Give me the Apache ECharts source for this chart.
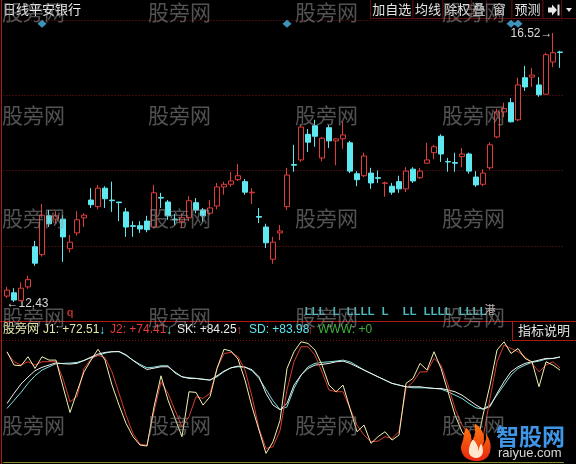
<!DOCTYPE html>
<html>
<head>
<meta charset="utf-8">
<script src="https://cdn.jsdelivr.net/npm/echarts@6/dist/echarts.min.js"></script>
<style>
html,body{margin:0;padding:0;background:#000;}
#chart{width:576px;height:464px;}
</style>
</head>
<body>
<div id="chart"></div>
<script>
// 平安银行 daily bars: open / close / low / high
const openP = [12.52,12.57,12.45,12.66,13.27,13.15,13.74,13.69,13.69,13.24,
  13.48,13.71,13.98,13.88,14.16,13.98,13.95,13.80,13.59,13.59,
  13.66,13.57,14.02,13.95,13.69,13.65,13.71,13.94,13.83,13.78,
  13.89,14.18,14.22,14.29,14.26,14.09,13.73,13.57,13.08,13.48,
  13.88,14.52,14.59,14.98,15.11,14.62,15.08,14.88,14.91,14.85,
  14.38,14.35,14.39,14.32,14.235,14.19,14.26,14.15,14.45,14.32,
  14.54,14.70,14.95,14.565,14.55,14.64,14.68,14.33,14.22,14.47,
  14.94,15.32,15.46,15.20,15.84,15.85,15.73,15.59,16.08,16.23];
const closeP = [12.61,12.46,12.64,12.77,13.02,13.75,13.62,13.74,13.42,13.34,
  13.68,13.75,13.91,14.16,14.00,13.97,13.94,13.57,13.58,13.54,
  13.53,14.09,14.01,13.74,13.68,13.71,13.97,13.83,13.74,13.86,
  14.18,14.22,14.27,14.35,14.10,14.10,13.72,13.33,13.34,13.51,
  14.36,14.51,15.09,14.86,14.95,14.92,14.88,14.91,14.97,14.42,
  14.29,14.65,14.24,14.31,14.24,14.10,14.15,14.42,14.27,14.42,
  14.59,14.79,14.68,14.56,14.54,14.68,14.42,14.21,14.39,14.82,
  15.32,15.37,15.17,15.73,15.70,15.88,15.58,16.19,16.22,16.225];
const lowP = [12.49,12.43,12.44,12.63,12.98,13.12,13.57,13.62,13.04,13.18,
  13.44,13.57,13.86,13.84,13.86,13.80,13.66,13.42,13.42,13.48,
  13.49,13.56,13.86,13.68,13.60,13.56,13.66,13.78,13.65,13.75,
  13.84,14.06,14.18,14.27,14.06,13.92,13.63,13.25,13.01,13.37,
  13.83,14.41,14.56,14.71,14.79,14.57,14.77,14.51,14.76,14.39,
  14.19,14.33,14.15,14.24,14.03,14.06,14.09,14.10,14.24,14.30,
  14.54,14.60,14.56,14.41,14.41,14.48,14.38,14.18,14.19,14.44,
  14.92,15.24,15.16,15.18,15.64,15.70,15.55,15.58,16.00,15.99];
const highP = [12.66,12.64,12.73,12.83,13.36,13.92,13.83,13.81,13.75,13.45,
  13.81,13.78,14.16,14.21,14.19,14.26,13.95,13.86,13.66,13.66,
  13.74,14.21,14.09,13.98,13.77,13.78,14.04,14.01,13.86,13.98,
  14.24,14.26,14.41,14.53,14.30,14.16,13.86,13.62,13.42,13.60,
  14.47,14.82,15.12,15.06,15.20,14.94,15.12,14.92,15.17,14.88,
  14.42,14.70,14.47,14.43,14.26,14.24,14.35,14.48,14.48,14.47,
  14.85,14.82,14.98,14.62,14.70,14.77,14.70,14.42,14.45,14.86,
  15.37,15.46,15.53,15.84,16.02,15.99,15.85,16.22,16.52,16.25];

// indicator lines
const j1 = [88.8,77,76.4,84.4,74,84.4,81.4,81.4,57.8,35,
  53.4,71,81.4,91,81.4,59.3,41.6,25.4,13.6,6.2,
  5.3,40,67.5,46,29.8,13.6,53.4,52.8,41.6,49,
  74,91,89.4,82.3,63.7,40,19.4,-1.2,9.1,28,
  74,88.8,97.6,96.2,90.3,77,59.3,53.4,59.3,38.6,
  18,23.9,7.7,13.6,18,10.6,15,60.8,65.2,78.5,
  72.6,88.8,74,53.4,32.7,18,9.1,1.8,32.7,59.3,
  90.3,97.6,87.3,91.7,82.9,79.9,57.8,79.9,77,72.51];
const j2 = [88,80,77,80,77,80,80,80,65,44.5,
  49,74,82.3,85.8,83.5,71,52,32.7,16.5,6.8,
  6.2,36,62.2,52,37,22.4,31.3,49,47.5,52,
  74,87.3,88.2,84.4,72.6,49,20.9,3.2,4.7,19,
  55,79.9,93.2,93.2,85.8,71,54.9,53.4,53.4,38.6,
  23.9,15,9.1,9.7,13.6,12.1,18,56.3,62.2,71,
  71,82.9,77,59.3,38.6,23.9,15,3.2,12.1,47.5,
  79.9,94.7,91.7,88.8,84.4,78.5,71,77,79.9,74.41];
const sk = [43,51.9,60.2,66.4,72,75,77,79,78.2,77.9,
  78.5,81.1,84.1,86.7,88.2,88.8,89.1,86.1,81.1,76.7,
  73.1,74.3,75.5,75.5,70.8,66.6,65.2,65.2,64.3,63.7,
  67.5,71.7,74.6,76.1,75.2,72.9,66.6,51.9,41.6,37.5,
  43,59.3,68.1,74,77,77.6,78.5,79.9,80.5,78.5,
  75.5,72.6,69.6,66.6,63.7,60.8,59.3,57.8,57.8,57.8,
  56.9,56.3,56.3,54.9,53.4,50.4,46,41.6,38,40.1,
  51.9,62.2,71.1,75.5,78.5,79.9,81.4,82.9,82.9,84.25];
const sd = [38.6,45.7,52.8,60.8,67.5,72.6,75.5,78.2,78.5,78.8,
  79.4,81.1,83.5,85.5,87.6,88.8,88.8,85.5,81.4,77.6,
  74.6,75.2,76.4,76.4,69.9,66.6,65.8,65.2,64.6,63.7,
  66.6,71.1,74.6,75.5,75.2,72,65.2,55.4,45.4,37.6,
  40,56.3,68.1,75.5,78.5,79.4,79.9,80.5,81.4,79.9,
  76.4,72.6,69.6,66.6,63.7,60.8,59.3,57.8,56.9,56.9,
  56.9,56.3,55.7,53.4,50.4,47.5,43,39.2,38,41.6,
  50.4,59.3,68.1,74,77,79.4,80.5,82.3,82.9,83.98];
const wwwValue = 0;

// event markers (bar indices)
const infoMarks = [5, 40, 72, 73];
const lMarks = [43,44,45,47,49,50,51,52,54,57,58,60,61,62,63,65,66,67,68];
const qMarks = [9];
const hkMarks = [69];

const RED = '#e03c3c';
const CYAN = '#5ee8f0';
const GRID = '#7a1616';
const FONT = '"Liberation Sans","Noto Sans CJK SC",sans-serif';

const idx = openP.map((_, i) => i);
const candles = idx.map(i => [openP[i], closeP[i], lowP[i], highP[i]]);

const chart = echarts.init(document.getElementById('chart'), null, {renderer: 'canvas'});

function fmt(v) { return (v >= 0 ? '+' : '') + v.toFixed(2); }
function rising(arr) { const n = arr.length; return arr[n - 1] >= arr[n - 2]; }
const last = a => a[a.length - 1];

function txt(text, x, y, fill, size, extra) {
  return {
    type: 'text', silent: true, z: 50,
    style: Object.assign({text: text, x: x, y: y, fill: fill,
      font: (size || 12) + 'px ' + FONT, verticalAlign: 'middle'}, extra || {})
  };
}

const graphics = [];

// watermark grid
const wmCols = [2, 148, 295, 442];
const wmRows = [12, 115, 218, 317, 425];
wmRows.forEach(r => wmCols.forEach(c => {
  graphics.push({type: 'text', silent: true, z: 100,
    style: {text: '股旁网', x: c, y: r, fill: 'rgba(150,150,150,0.55)',
      font: '21px "Noto Sans CJK SC",sans-serif', verticalAlign: 'middle'}});
}));

// frame lines
graphics.push({type: 'line', silent: true, z: 60, shape: {x1: 0, y1: 321.5, x2: 576, y2: 321.5}, style: {stroke: '#b01818', lineWidth: 1}});
graphics.push({type: 'line', silent: true, z: 60, shape: {x1: 1.5, y1: 0, x2: 1.5, y2: 464}, style: {stroke: '#b01818', lineWidth: 1}});
graphics.push({type: 'line', silent: true, z: 60, shape: {x1: 0, y1: 340.5, x2: 512, y2: 340.5}, style: {stroke: GRID, lineWidth: 1, lineDash: [1, 2]}});

// header
graphics.push(txt('日线平安银行', 3, 10, '#f0f0f0', 13));

// toolbar
const tools = [['加自选', 370, 412.5], ['均线', 412.5, 442.5], ['除权', 442.5, 471], ['叠', 471, 486], ['窗', 486, 511.5], ['预测', 511.5, 542.5]];
tools.forEach(t => {
  graphics.push({type: 'rect', silent: true, z: 40, shape: {x: t[1] + 0.5, y: -1, width: t[2] - t[1], height: 19.5},
    style: {fill: '#000', stroke: '#5c0d0d', lineWidth: 1}});
  graphics.push(txt(t[0], (t[1] + t[2]) / 2 + 0.5, 10, '#e4e4e4', 13, {align: 'center'}));
});
graphics.push({type: 'rect', silent: true, z: 40, shape: {x: 543, y: -1, width: 18.5, height: 19.5}, style: {fill: '#000', stroke: '#5c0d0d', lineWidth: 1}});
graphics.push({type: 'rect', silent: true, z: 40, shape: {x: 561.5, y: -1, width: 16, height: 19.5}, style: {fill: '#000', stroke: '#5c0d0d', lineWidth: 1}});
graphics.push({type: 'polygon', silent: true, z: 55, shape: {points: [[548, 7.5], [552, 7.5], [552, 4.5], [557, 10], [552, 15.5], [552, 12.5], [548, 12.5]]}, style: {fill: '#e8e8e8'}});
graphics.push({type: 'rect', silent: true, z: 55, shape: {x: 557.5, y: 4.5, width: 2, height: 11}, style: {fill: '#e8e8e8'}});
graphics.push({type: 'polygon', silent: true, z: 55, shape: {points: [[566, 8], [572, 8], [569, 12]]}, style: {fill: '#e8e8e8'}});

// indicator title row
graphics.push(txt('股旁网', 3, 330, '#e8e8aa', 12));
graphics.push(txt('J1: ' + fmt(last(j1)), 43, 330, '#e8e8aa', 12));
graphics.push(txt(rising(j1) ? '↑' : '↓', 99, 331, rising(j1) ? RED : CYAN, 12));
graphics.push(txt('J2: ' + fmt(last(j2)), 110, 330, RED, 12));
graphics.push(txt(rising(j2) ? '↑' : '↓', 166, 331, rising(j2) ? RED : CYAN, 12));
graphics.push(txt('SK: ' + fmt(last(sk)), 177, 330, '#ececec', 12));
graphics.push(txt(rising(sk) ? '↑' : '↓', 236, 331, rising(sk) ? RED : CYAN, 12));
graphics.push(txt('SD: ' + fmt(last(sd)), 249, 330, CYAN, 12));
graphics.push(txt(rising(sd) ? '↑' : '↓', 307, 331, rising(sd) ? RED : CYAN, 12));
graphics.push(txt('WWW: +' + wwwValue, 318, 330, '#3cb43c', 12));

// indicator help box
graphics.push({type: 'rect', silent: true, z: 40, shape: {x: 512.5, y: 321.5, width: 64, height: 19}, style: {fill: '#000', stroke: '#b01818', lineWidth: 1}});
graphics.push(txt('指标说明', 544, 331, '#e4e4e4', 13, {align: 'center'}));

// site logo: flame + name
graphics.push({type: 'polygon', silent: true, z: 110,
  shape: {smooth: 0.35, points: [[476, 461], [466, 458], [461, 449], [463, 440], [466, 428], [471, 435], [471, 442], [475, 434], [475, 424], [482, 431], [484, 440], [483, 446], [486, 439], [486, 434], [490, 442], [490, 452], [485, 459]]},
  style: {fill: new echarts.graphic.LinearGradient(0, 0, 0, 1, [{offset: 0, color: '#ff7a10'}, {offset: 1, color: '#e8260e'}])}});
graphics.push({type: 'polygon', silent: true, z: 111,
  shape: {smooth: 0.35, points: [[476, 458], [470, 455], [469, 449], [473, 440], [478, 447], [478, 451], [481, 444], [483, 451], [481, 456]]},
  style: {fill: '#ffe6cc'}});
graphics.push({type: 'text', silent: true, z: 110,
  style: {text: '智股网', x: 496, y: 436, fill: '#3f95e6', font: 'bold 23px "Noto Sans CJK SC",sans-serif', verticalAlign: 'middle'}});
graphics.push({type: 'text', silent: true, z: 110,
  style: {text: 'raiyue.com', x: 498, y: 453, fill: '#d6d6d6', font: '13px "Liberation Sans",sans-serif', verticalAlign: 'middle'}});

function markText(list, level, text, color, bold) {
  return {
    type: 'scatter', xAxisIndex: 0, yAxisIndex: 1, silent: true, z: 20,
    data: list.map(i => [i, level]), symbolSize: 1, itemStyle: {color: 'rgba(0,0,0,0)'},
    label: {show: true, position: 'inside', formatter: text, color: color,
      fontSize: 11, fontWeight: bold ? 'bold' : 'normal', fontFamily: FONT}
  };
}

const option = {
  backgroundColor: '#000',
  animation: false,
  grid: [
    {left: 3.5, width: 560, top: 20, height: 301},
    {left: 3.5, width: 560, top: 340, height: 122}
  ],
  xAxis: [
    {gridIndex: 0, type: 'category', data: idx, show: false},
    {gridIndex: 1, type: 'category', data: idx,
      axisLine: {show: true, onZero: false, lineStyle: {color: '#8c8c28', width: 1}},
      axisTick: {show: false}, axisLabel: {show: false}, splitLine: {show: false}}
  ],
  yAxis: [
    {gridIndex: 0, type: 'value', min: 12.141, max: 16.7177, show: false},
    {gridIndex: 0, type: 'value', min: 0, max: 4, interval: 1, axisLine: {show: false}, axisTick: {show: false},
      axisLabel: {show: false}, splitLine: {show: true, lineStyle: {color: GRID, type: [1, 2], width: 1}}},
    {gridIndex: 1, type: 'value', min: -8.8, max: 99.2, show: false}
  ],
  graphic: graphics,
  series: [
    {
      type: 'candlestick', xAxisIndex: 0, yAxisIndex: 0, data: candles, barWidth: 5, z: 5,
      itemStyle: {color: '#000', color0: CYAN, borderColor: RED, borderColor0: CYAN, borderWidth: 1},
      markPoint: {
        symbol: 'circle', symbolSize: 1, silent: true,
        itemStyle: {color: 'rgba(0,0,0,0)'},
        label: {color: '#d8d8d8', fontSize: 12, fontFamily: FONT},
        data: [
          {type: 'max', valueDim: 'highest', label: {position: 'left', distance: 0, offset: [0, 1], formatter: p => Number(p.value).toFixed(2) + '→'}},
          {type: 'min', valueDim: 'lowest', label: {position: 'right', distance: 0, offset: [-8, 2], formatter: p => '←' + Number(p.value).toFixed(2)}}
        ]
      }
    },
    {
      type: 'scatter', xAxisIndex: 0, yAxisIndex: 1, silent: true, z: 20,
      data: infoMarks.map(i => [i, 3.95]), symbol: 'diamond', symbolSize: [9, 8],
      itemStyle: {color: '#4cb6e6'}
    },
    markText(lMarks, 0.12, 'L', CYAN, true),
    markText(qMarks, 0.11, 'q', RED, true),
    markText(hkMarks, 0.13, '港', '#f6e8e8', false),
    {type: 'line', xAxisIndex: 1, yAxisIndex: 2, data: sd, symbol: 'none', lineStyle: {color: '#7fe0e0', width: 1}, z: 3},
    {type: 'line', xAxisIndex: 1, yAxisIndex: 2, data: sk, symbol: 'none', lineStyle: {color: '#f0f0ea', width: 1}, z: 4},
    {type: 'line', xAxisIndex: 1, yAxisIndex: 2, data: j2, symbol: 'none', lineStyle: {color: '#d83a30', width: 1}, z: 5},
    {type: 'line', xAxisIndex: 1, yAxisIndex: 2, data: j1, symbol: 'none', lineStyle: {color: '#f4f0b0', width: 1}, z: 6}
  ]
};
chart.setOption(option);
</script>
</body>
</html>
